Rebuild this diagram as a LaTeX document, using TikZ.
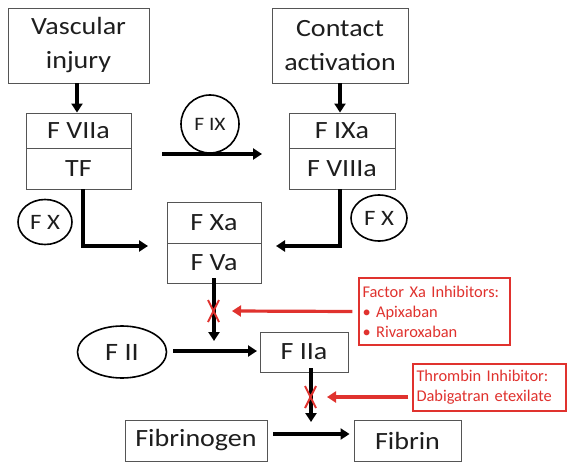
\documentclass[tikz,border=0pt]{standalone}
\usepackage{fontspec}
\setmainfont{Carlito}
\newfontfamily\wfam[FakeStretch=1.13]{Carlito}
\usetikzlibrary{arrows.meta,shapes.geometric}
\definecolor{txt}{HTML}{1E1E1E}
\definecolor{boxline}{HTML}{555555}
\definecolor{redc}{HTML}{E0322E}
\tikzset{
  box/.style={draw=boxline, line width=0.9pt, text=txt, inner sep=0pt, font=\wfam\fontsize{24.8}{34}\selectfont, align=center},
  oval/.style={draw=black, line width=1.6pt, ellipse, inner sep=0pt, text=txt},
  redbox/.style={draw=redc, line width=1.5pt, text=redc, inner sep=0pt, font=\fontsize{16.4}{20}\selectfont, align=left},
  conn/.style={draw=black, line width=3.2pt, -{Triangle[length=9pt,width=11pt]}},
  redconn/.style={draw=redc, line width=3.2pt, -{Triangle[length=9pt,width=11pt]}},
  xmark/.style={draw=redc, line width=2pt},
}
\begin{document}
\begin{tikzpicture}[x=1pt,y=-1pt]
\useasboundingbox[fill=white] (0,0) rectangle (572,473);
% top boxes
\node[box, minimum width=141pt, minimum height=75pt] (vi) at (78.5,45.5) {Vascular\\injury};
\node[box, minimum width=136pt, minimum height=75pt] (ca) at (340,45.5) {Contact\\activation};
% complexes
\node[box, minimum width=105pt, minimum height=35pt] (f7) at (78.5,130.5) {F VIIa};
\node[box, minimum width=105pt, minimum height=41pt] (tf) at (78.5,168.5) {TF};
\node[box, minimum width=106pt, minimum height=35pt] (f9a) at (342,130.5) {F IXa};
\node[box, minimum width=106pt, minimum height=41pt] (f8) at (342,168.5) {F VIIIa};
\node[box, minimum width=94pt, minimum height=41pt] (fxa) at (214,222.5) {F Xa};
\node[box, minimum width=94pt, minimum height=40pt] (fva) at (214,263) {F Va};
\node[box, minimum width=88pt, minimum height=40pt] (f2a) at (304,352) {F IIa};
\node[box, minimum width=142pt, minimum height=41pt] (fg) at (196,440.5) {Fibrinogen};
\node[box, minimum width=107pt, minimum height=41pt] (fb) at (407.5,440.5) {Fibrin};
% ovals
\node[oval, circle, minimum size=58pt, font=\wfam\fontsize{19}{20}\selectfont] (f9) at (210,124) {F IX};
\node[oval, minimum width=54pt, minimum height=45pt, font=\wfam\fontsize{22}{24}\selectfont] (fx1) at (45,222) {F X};
\node[oval, minimum width=56pt, minimum height=46pt, font=\wfam\fontsize{22}{24}\selectfont] (fx2) at (379,218) {F X};
\node[oval, minimum width=89pt, minimum height=52pt, font=\wfam\fontsize{25}{27}\selectfont] (f2) at (122,352) {F II};
% red boxes
\node[redbox, minimum width=151pt, minimum height=67pt, text width=144pt] (r1) at (434.5,311.5) {Factor Xa Inhibitors:\\\textbullet\ Apixaban\\\textbullet\ Rivaroxaban};
\node[redbox, minimum width=153pt, minimum height=47pt, text width=146pt] (r2) at (489.5,387.5) {Thrombin Inhibitor:\\Dabigatran etexilate};
% coordinates
\coordinate (a9s) at (162,154);
\coordinate (a9e) at (262,154);
\coordinate (tfc) at (83,246);
\coordinate (tfe) at (148,246);
\coordinate (f8c) at (340,246);
\coordinate (f8e) at (276,246);
\coordinate (vae) at (214,341);
\coordinate (f2e) at (311,422);
\coordinate (r1e) at (232,311);
\coordinate (r2e) at (327,397);
% connectors
\draw[conn] (vi.south -| 77,0) -- (f7.north -| 77,0);
\draw[conn] (ca.south -| 340,0) -- (f9a.north -| 340,0);
\draw[conn] (a9s) -- (a9e);
\draw[conn] (tf.south -| tfc) -- (tfc) -- (tfe);
\draw[conn] (f8.south -| f8c) -- (f8c) -- (f8e);
\draw[conn] ([yshift=5pt]fva.south) -- (vae);
\draw[conn] (f2.east |- 0,351) ++(6,0) -- (257,351);
\draw[conn] ([yshift=4pt]f2a.south -| f2e) -- (f2e);
\draw[conn] ([xshift=6pt]fg.east |- 0,434) -- ([xshift=-4pt]fb.west |- 0,434);
\draw[redconn] ([xshift=-6pt]r1.west) -- (r1e);
\draw[redconn] ([xshift=-4pt]r2.west |- r2e) -- (r2e);
% red crosses
\draw[xmark] (208,300) -- (219,322) (219,300) -- (208,322);
\draw[xmark] (305,386) -- (316,408) (316,386) -- (305,408);
\end{tikzpicture}
\end{document}
